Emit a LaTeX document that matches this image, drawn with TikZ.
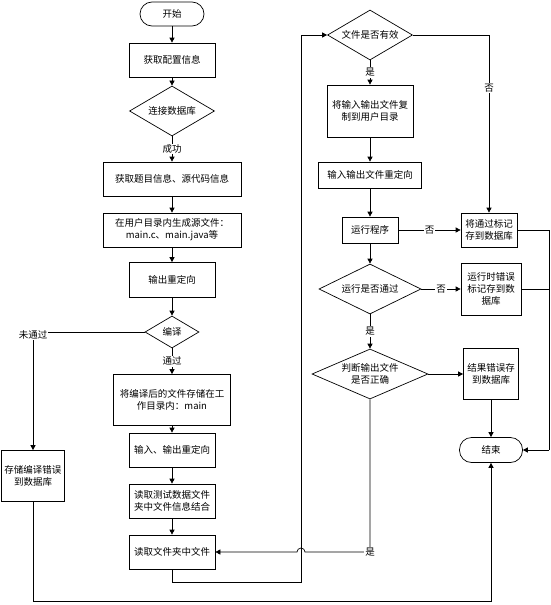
\documentclass[tikz,border=0pt]{standalone}
\usepackage{fontspec}
\setmainfont{Noto Sans CJK SC}
\usetikzlibrary{arrows.meta,shapes.geometric,calc}

\tikzset{
  every node/.style={font=\fontsize{9.5}{12}\selectfont},
  proc/.style={draw, rectangle, align=center, inner sep=1pt},
  decide/.style={draw, diamond, align=center, inner sep=0pt},
  term/.style={draw, rectangle, rounded corners=12, inner sep=1pt},
  lbl/.style={fill=white, inner sep=1pt},
}

\begin{document}
\begin{tikzpicture}[x=1pt, y=-1pt, line width=0.7pt, >={Triangle[length=5pt,width=5pt]}]
\useasboundingbox (0,0) rectangle (551,605);
% left column
\node[term, minimum width=64, minimum height=24](start)at(172,14){开始};
\node[proc, minimum width=86, minimum height=34](cfg)at(172,60){获取配置信息};
\node[decide, minimum width=85, minimum height=50, shape aspect=1.7](db)at(172,111){连接数据库};
\node[proc, minimum width=138, minimum height=34](info)at(172,179){获取题目信息、源代码信息};
\node[proc, minimum width=138, minimum height=34](gen)at(172,230){在用户目录内生成源文件：\\main.c、main.java等};
\node[proc, minimum width=86, minimum height=35](redir)at(172,280){输出重定向};
\node[decide, minimum width=54, minimum height=32, shape aspect=1.7](comp)at(172,332){编译};
\node[proc, minimum width=117, minimum height=51](save)at(172,400){将编译后的文件存储在工\\作目录内：main};
\node[proc, minimum width=86, minimum height=34](io)at(172,450){输入、输出重定向};
\node[proc, minimum width=86, minimum height=34](rdata)at(172,501){读取测试数据文件\\夹中文件信息结合};
\node[proc, minimum width=86, minimum height=34](rfile)at(172,552){读取文件夹中文件};
\node[proc, minimum width=63, minimum height=51](err)at(33,476){存储编译错误\\到数据库};
% right column
\node[decide, minimum width=85, minimum height=50, shape aspect=1.7](valid)at(370,35){文件是否有效};
\node[proc, minimum width=86, minimum height=52](copy)at(370,111){将输入输出文件复\\制到用户目录};
\node[proc, minimum width=103, minimum height=26](fredir)at(370,175){输入输出文件重定向};
\node[proc, minimum width=56, minimum height=26](run)at(370,230){运行程序};
\node[decide, minimum width=102, minimum height=50, shape aspect=2](check)at(370,289){运行是否通过};
\node[decide, minimum width=116, minimum height=50, shape aspect=2.3](judge)at(370,374){判断输出文件\\是否正确};
\node[proc, minimum width=56, minimum height=34](pass)at(489,230){将通过标记\\存到数据库};
\node[proc, minimum width=60, minimum height=52](rterr)at(491,289){运行时错误\\标记存到数\\据库};
\node[proc, minimum width=55, minimum height=51](reserr)at(491,374){结果错误存\\到数据库};
\node[term, minimum width=63, minimum height=25](fin)at(491,450){结束};
% corner points
\coordinate(c1)at(33,332);
\coordinate(l1)at(301,582);
\coordinate(rr)at(549,450);
\coordinate(b1)at(33,601);
\coordinate(jc)at(370,552);
% left flow
\path[draw, ->](start)to(cfg);
\path[draw, ->](cfg)to(db);
\path[draw, ->](db)to node[lbl]{成功}(info);
\path[draw, ->](info)to(gen);
\path[draw, ->](gen)to(redir);
\path[draw, ->](redir)to(comp);
\path[draw, ->](comp)to node[lbl]{通过}(save);
\path[draw, ->](save)to(io);
\path[draw, ->](io)to(rdata);
\path[draw, ->](rdata)to(rfile);
\path[draw, ->](comp.west)--(c1)--(err.north);
\node[lbl]at($(c1)+(0,3)$){未通过};
\path[draw, ->](rfile.south)|-(l1)|-(valid.west);
\path[draw, ->](err.south)--(b1)-|(fin.south);
% right flow
\path[draw, ->](valid)to node[lbl]{是}(copy);
\path[draw, ->](copy)to(fredir);
\path[draw, ->](fredir)to(run);
\path[draw, ->](valid.east)-|node[lbl, pos=0.65]{否}(pass.north);
\path[draw, ->](run)to node[lbl]{否}(pass);
\path[draw, ->](run)to(check);
\path[draw, ->](check)to node[lbl]{否}(rterr);
\path[draw, ->](check)to node[lbl]{是}(judge);
\path[draw, ->](judge)to(reserr);
\path[draw, ->](reserr)to(fin);
\path[draw](pass.east)-|(rr);
\path[draw](rterr.east)--(rterr.east-|rr);
\path[draw, ->](rr)--(fin.east);
% back to read files, hop over line
\path[draw, ->](judge.south)--(jc)--(305,552)arc(0:-180:4)--(rfile.east);
\node[lbl]at(jc){是};
\end{tikzpicture}
\end{document}
